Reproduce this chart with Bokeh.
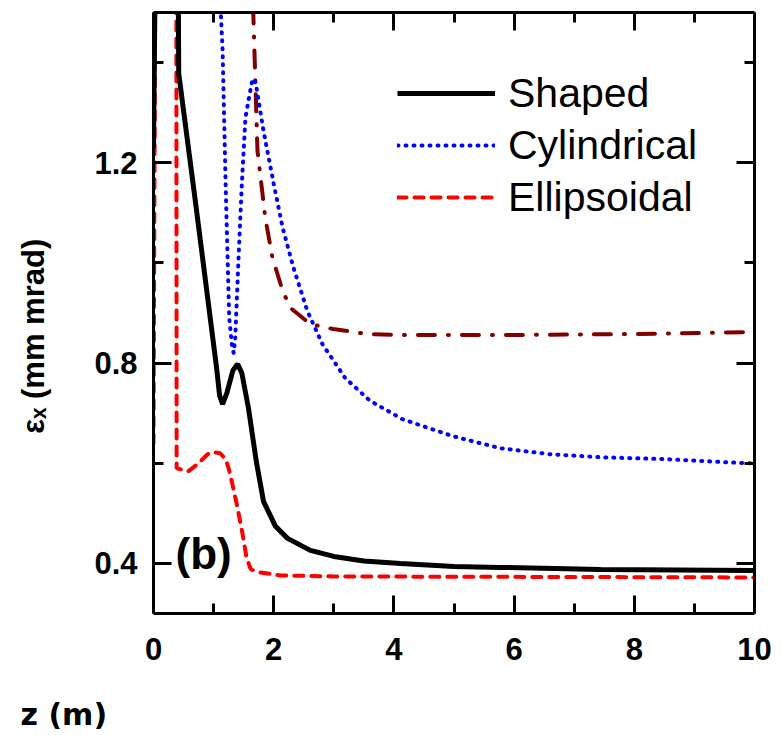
from bokeh.plotting import figure
from bokeh.models import LinearAxis, FixedTicker, Legend, LegendItem, Label, Range1d, Title
from bokeh.embed import file_html
from bokeh.resources import INLINE

# ---- data ----
z_shaped = [0.0, 0.03, 0.41, 0.42, 0.70, 1.05, 1.10, 1.15, 1.22, 1.32, 1.40, 1.47, 1.58, 1.71,
            1.83, 2.03, 2.23, 2.61, 3.0, 3.5, 4.11, 5.0, 5.77, 7.44, 10.0]
eps_shaped = [1.23, 1.6, 1.6, 1.378, 1.12, 0.79, 0.735, 0.718, 0.74, 0.785, 0.798, 0.78, 0.71, 0.604,
              0.524, 0.474, 0.45, 0.426, 0.414, 0.405, 0.40, 0.394, 0.392, 0.388, 0.386]

z_cyl = [1.08, 1.12, 1.15, 1.20, 1.26, 1.31, 1.335, 1.36, 1.42, 1.47, 1.53, 1.61, 1.65, 1.70,
         1.83, 2.0, 2.15, 2.33, 2.56, 2.81, 3.19, 3.6, 4.14, 4.98, 5.77, 6.6, 7.44, 8.55, 9.88, 10.0]
eps_cyl = [1.7, 1.5, 1.424, 1.158, 0.89, 0.83, 0.82, 0.85, 1.024, 1.158, 1.29, 1.344, 1.368, 1.36,
           1.264, 1.158, 1.07, 0.99, 0.904, 0.838, 0.77, 0.725, 0.688, 0.654, 0.63, 0.618, 0.612,
           0.608, 0.60, 0.60]

z_ell = [0.0, 0.03, 0.38, 0.385, 0.58, 0.75, 0.90, 1.0, 1.11, 1.20, 1.25, 1.31, 1.40, 1.48, 1.55,
         1.62, 1.78, 2.11, 3.0, 10.0]
eps_ell = [0.64, 1.6, 1.6, 0.59, 0.584, 0.60, 0.618, 0.622, 0.62, 0.608, 0.59, 0.56, 0.51, 0.46,
           0.41, 0.388, 0.382, 0.376, 0.374, 0.372]

z_ref = [1.64, 1.66, 1.73, 1.86, 1.98, 2.15, 2.28, 2.61, 2.99, 3.56, 4.11, 6.0, 8.0, 10.0]
eps_ref = [1.6, 1.5, 1.224, 1.09, 1.01, 0.944, 0.91, 0.878, 0.868, 0.858, 0.856, 0.856, 0.858, 0.862]

x_ticks = [0, 2, 4, 6, 8, 10]
x_minor = [1, 3, 5, 7, 9]
x_tick_labels = ["0", "2", "4", "6", "8", "10"]
y_ticks = [0.4, 0.8, 1.2]
y_minor = [0.6, 1.0, 1.4]
y_tick_labels = ["0.4", "0.8", "1.2"]
series_names = ["Shaped", "Cylindrical", "Ellipsoidal"]
x_title = "z (m)"
y_title = "\u03b5\u2093 (mm mrad)"
panel_tag = "(b)"

p = figure(frame_width=601, frame_height=601, x_range=Range1d(0, 10), y_range=Range1d(0.3, 1.5),
           output_backend="svg", toolbar_location=None,
           min_border_left=153, min_border_right=19, min_border_top=12, min_border_bottom=120)
p.grid.visible = False
p.outline_line_color = None
p.background_fill_color = "white"
p.border_fill_color = "white"

bottom_ax = p.below[0]
left_ax = p.left[0]
top_ax = LinearAxis()
right_ax = LinearAxis()
p.add_layout(top_ax, "above")
p.add_layout(right_ax, "right")


def style_axis(ax, ticks, minor, labels=None):
    ax.ticker = FixedTicker(ticks=ticks, minor_ticks=minor)
    ax.axis_line_width = 3
    ax.axis_line_color = "black"
    ax.major_tick_in = 18
    ax.major_tick_out = 0
    ax.minor_tick_in = 10
    ax.minor_tick_out = 0
    ax.major_tick_line_width = 3
    ax.minor_tick_line_width = 3
    ax.major_tick_line_color = "black"
    ax.minor_tick_line_color = "black"
    if labels is not None:
        ax.major_label_overrides = {t: l for t, l in zip(ticks, labels)}
        ax.major_label_text_font = "Liberation Sans"
        ax.major_label_text_font_style = "bold"
        ax.major_label_text_font_size = "31px"
        ax.major_label_text_color = "black"
    else:
        ax.major_label_text_color = None
        ax.major_label_text_font_size = "1px"
        ax.major_label_standoff = 0


style_axis(bottom_ax, x_ticks, x_minor, x_tick_labels)
bottom_ax.major_label_standoff = 24
style_axis(left_ax, y_ticks, y_minor, y_tick_labels)
left_ax.major_label_standoff = 16
style_axis(top_ax, x_ticks, x_minor)
style_axis(right_ax, y_ticks, y_minor)

# y title as the left axis label (trailing em/en spaces shift it toward the bottom)
left_ax.axis_label = y_title + "\u2003\u2002"
left_ax.axis_label_standoff = 40
left_ax.axis_label_text_font = "Liberation Sans"
left_ax.axis_label_text_font_style = "bold"
left_ax.axis_label_text_font_size = "31px"
left_ax.axis_label_text_color = "black"

r_ref = p.line(z_ref, eps_ref, line_color="#800000", line_width=4, line_dash="17 13 1 13",
               line_cap="round")
r_cyl = p.line(z_cyl, eps_cyl, line_color="#0000ff", line_width=4, line_dash="1 7",
               line_cap="round")
r_ell = p.line(z_ell, eps_ell, line_color="#ff0000", line_width=4, line_dash="9 8",
               line_cap="round")
r_sh = p.line(z_shaped, eps_shaped, line_color="black", line_width=5)

legend = Legend(items=[LegendItem(label=series_names[0], renderers=[r_sh]),
                       LegendItem(label=series_names[1], renderers=[r_cyl]),
                       LegendItem(label=series_names[2], renderers=[r_ell])],
                location=(244, 390), orientation="vertical",
                glyph_width=98, glyph_height=52, label_height=52, label_standoff=13,
                spacing=0, padding=0, margin=0, border_line_color=None,
                background_fill_alpha=0, label_text_font="Liberation Sans",
                label_text_font_size="41px", label_text_color="black")
p.add_layout(legend)

p.add_layout(Label(x=22, y=36, x_units="screen", y_units="screen", text=panel_tag,
                   text_font="Liberation Sans", text_font_style="bold",
                   text_font_size="44px", text_color="black"))

# x title in the bottom panel, aligned to the left of the page
xt = Title(text=x_title, align="left", offset=-133, standoff=69, vertical_align="top",
           text_font="DejaVu Sans", text_font_style="bold",
           text_font_size="30px", text_color="black")
p.add_layout(xt, "below")

open("out.html", "w").write(file_html(p, INLINE))
